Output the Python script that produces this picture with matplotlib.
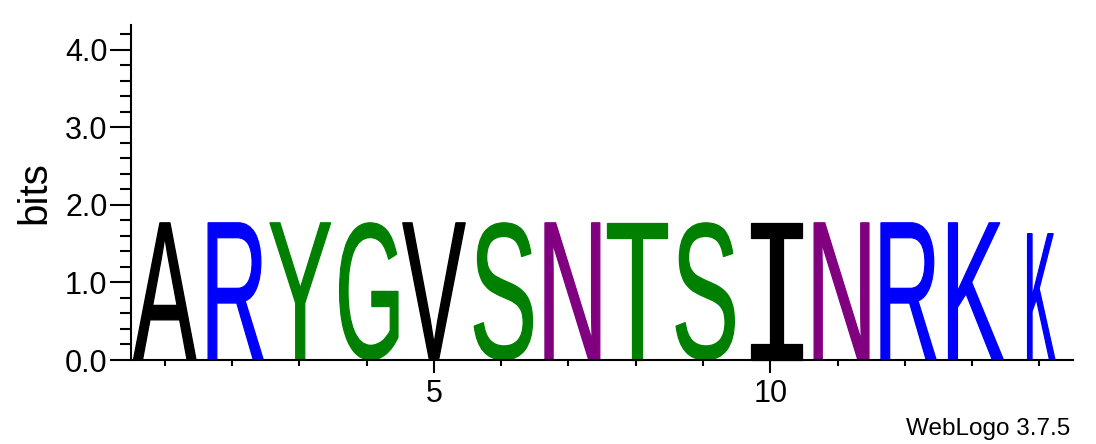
import matplotlib
matplotlib.use("Agg")
import matplotlib.pyplot as plt
from matplotlib.textpath import TextPath
from matplotlib.patches import PathPatch
from matplotlib.font_manager import FontProperties
from matplotlib.transforms import Affine2D
import numpy as np

# ---- data ----
positions = list(range(1, 15))
letters = ["A", "R", "Y", "G", "V", "S", "N", "T", "S", "I", "N", "R", "K", "K"]
heights = [1.77, 1.77, 1.77, 1.77, 1.77, 1.77, 1.77, 1.77, 1.77, 1.77, 1.77, 1.77, 1.77, 1.63]
width_frac = [1, 1, 1, 1, 1, 1, 1, 1, 1, 1, 1, 1, 1, 0.5]
colors = {"A": "#000000", "V": "#000000", "I": "#000000",
          "R": "#0000FF", "K": "#0000FF",
          "Y": "#008000", "G": "#008000", "S": "#008000", "T": "#008000",
          "N": "#800080"}
xtick_major = [5, 10]
ytick_major = [0, 1, 2, 3, 4]
ytick_labels = ["0.0", "1.0", "2.0", "3.0", "4.0"]
ymax = np.log2(20)

plt.rcParams['font.family'] = ['Liberation Sans', 'DejaVu Sans']

fig = plt.figure(figsize=(10.96, 4.44), dpi=100)
ax = fig.add_axes([131/1096, 1 - 360/444, (1073-131)/1096, (360-25)/444])

sans = FontProperties(family="Liberation Sans")
mono = FontProperties(family="DejaVu Sans Mono")

col_w = 0.935
for x, ch, h, wf in zip(positions, letters, heights, width_frac):
    prop = mono if ch == "I" else sans
    tp = TextPath((0, 0), ch, size=1, prop=prop)
    verts = tp.vertices
    x0, y0 = verts.min(axis=0)
    x1, y1 = verts.max(axis=0)
    w = col_w * wf
    tr = Affine2D().translate(-x0, -y0).scale(w / (x1 - x0), h / (y1 - y0)).translate(x - w / 2, 0)
    path = tr.transform_path(tp)
    ax.add_patch(PathPatch(path, facecolor=colors[ch], edgecolor=colors[ch],
                           lw=0.9, joinstyle="miter", clip_on=False))

ax.set_xlim(0.5, 14.5)
ax.set_ylim(0, ymax)

for s in ["top", "right"]:
    ax.spines[s].set_visible(False)
for s in ["left", "bottom"]:
    ax.spines[s].set_linewidth(1.5)

ax.set_yticks(ytick_major)
ax.set_yticklabels(ytick_labels, fontsize=22)
ax.tick_params(axis="y", which="major", length=15, width=1.5, pad=2)
ax.set_yticks([v for v in np.round(np.arange(0, ymax, 0.2), 2) if abs(v - round(v)) > 1e-6], minor=True)
ax.tick_params(axis="y", which="minor", length=8, width=1.5)

ax.set_xticks(xtick_major)
ax.set_xticklabels([str(v) for v in xtick_major], fontsize=22)
ax.set_xticks([p for p in positions if p not in xtick_major], minor=True)
ax.tick_params(axis="x", which="major", length=9, width=1.5, pad=5)
ax.tick_params(axis="x", which="minor", length=4.5, width=1.5)

ax.set_ylabel("bits", fontsize=29)
ax.yaxis.set_label_coords((53 - 131) / 942, 0.5)

fig.text(1070/1096, (444 - 435)/444, "WebLogo 3.7.5", ha="right", va="baseline", fontsize=17.5)

fig.savefig("out.png", dpi=100)
